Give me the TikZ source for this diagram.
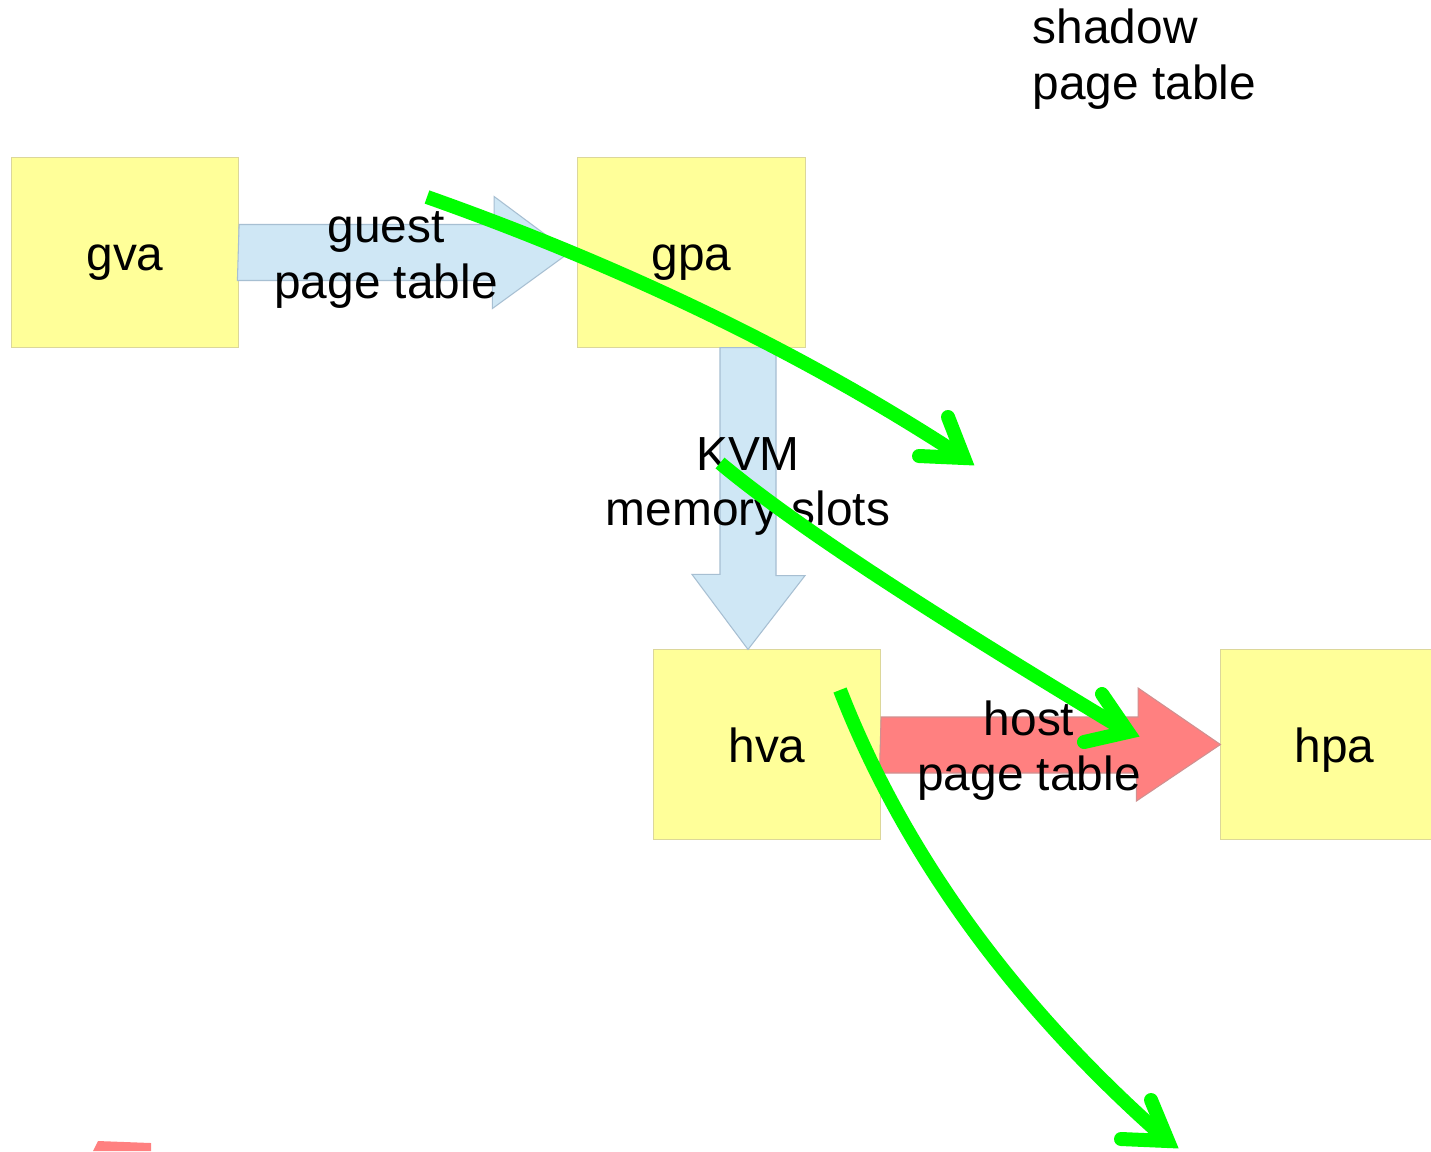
\documentclass[tikz,border=0pt]{standalone}
\usepackage{fontspec}
\setmainfont{Liberation Sans}
\usetikzlibrary{calc}
\definecolor{boxfill}{HTML}{FFFF99}
\definecolor{boxedge}{HTML}{DCD79A}
\definecolor{bluefill}{HTML}{CFE7F5}
\definecolor{blueedge}{HTML}{A7BFD2}
\definecolor{redfill}{HTML}{FF8080}
\definecolor{rededge}{HTML}{D09090}
\definecolor{linkgreen}{HTML}{00FF00}
% line strut: 0.45cm above and 0.10cm below the baseline
\newcommand\ls{\rule[-0.1cm]{0pt}{0.55cm}}
\newcommand\labelfont{\fontsize{13.6pt}{15.65pt}\selectfont}
\begin{document}
\begin{tikzpicture}[x=0.01cm,y=-0.01cm,
  box/.style={draw=boxedge,fill=boxfill,line width=0.3pt,
    minimum width=2.27cm,minimum height=1.89cm,inner sep=0pt,font=\labelfont},
  lbl/.style={inner sep=0pt,align=center,font=\labelfont},
  guestarrow/.style={draw=blueedge,fill=bluefill,line width=0.3pt},
  hostarrow/.style={draw=rededge,fill=redfill,line width=0.3pt},
  link/.style={draw=linkgreen,line width=0.14cm,line cap=butt},
  linkhead/.style={draw=linkgreen,line width=0.14cm,line cap=round,line join=miter}]
\useasboundingbox (0,0) rectangle (1431,1151);
\clip (0,0) rectangle (1431,1151);
\fill[white] (0,0) rectangle (1431,1151);

% address spaces
\node[box] (gva) at (125,252.5) {\ls gva};
\node[box] (gpa) at (691.5,252.5) {\ls gpa};
\node[box] (hva) at (767,744.5) {\ls hva};
\node[box] (hpa) at (1334.5,744.5) {\ls hpa};

% gva -> gpa
\draw[guestarrow] ($(gva.east)+(0,-28)$) -- ++(255,0) -- ++(0,-28)
  -- ($(gpa.west)+(-8,0)$) -- ++(-77,56) -- ++(0,-28) -- ++(-255,0) -- cycle;
% gpa -> hva
\draw[guestarrow] ($(gpa.south)+(28.5,0)$) -- ++(56,0) -- ++(0,228) -- ++(29,0)
  -- ($(hva.north)+(-19,0)$) -- ++(-56,-75) -- ++(28,0) -- cycle;
% hva -> hpa
\draw[hostarrow] ($(hva.east)+(0,-27.5)$) -- ++(257,0) -- ++(0,-29)
  -- (hpa.west) -- ++(-84,56.5) -- ++(0,-28) -- ++(-257,0) -- cycle;
% fragment at the lower left edge
\fill[redfill] (98,1141) -- (151,1143) -- (151,1151) -- (93,1151) -- cycle;

% labels
\node[lbl] (glabel) at (386,253) {\ls guest\\\ls page table};
\node[lbl] (klabel) at (748,480) {\ls KVM\\\ls memory slots};
\node[lbl] (hlabel) at (1029,745) {\ls host\\\ls page table};
\node[lbl,align=left,anchor=west] (slabel) at (1032,54) {\ls shadow\\\ls page table};

% shadow page table shortcuts
\coordinate (s1) at (427,197);   \coordinate (e1) at (964,458);
\coordinate (s1a) at (948,417);  \coordinate (s1b) at (919,456);
\coordinate (s2) at (720,463);   \coordinate (e2) at (1128,732);
\coordinate (s2a) at (1102,694); \coordinate (s2b) at (1084,742);
\coordinate (s3) at (840,690);   \coordinate (e3) at (1168,1141);
\coordinate (s3a) at (1151,1100);\coordinate (s3b) at (1121,1139);

\draw[link] (s1) .. controls (608,261) and (795,347) .. (e1);
\draw[linkhead] (s1a) -- (e1) -- (s1b);
\draw[link] (s2) .. controls (800,530) and (950,625) .. (e2);
\draw[linkhead] (s2a) -- (e2) -- (s2b);
\draw[link] (s3) .. controls (910,870) and (1030,1020) .. (e3);
\draw[linkhead] (s3a) -- (e3) -- (s3b);
\end{tikzpicture}
\end{document}
